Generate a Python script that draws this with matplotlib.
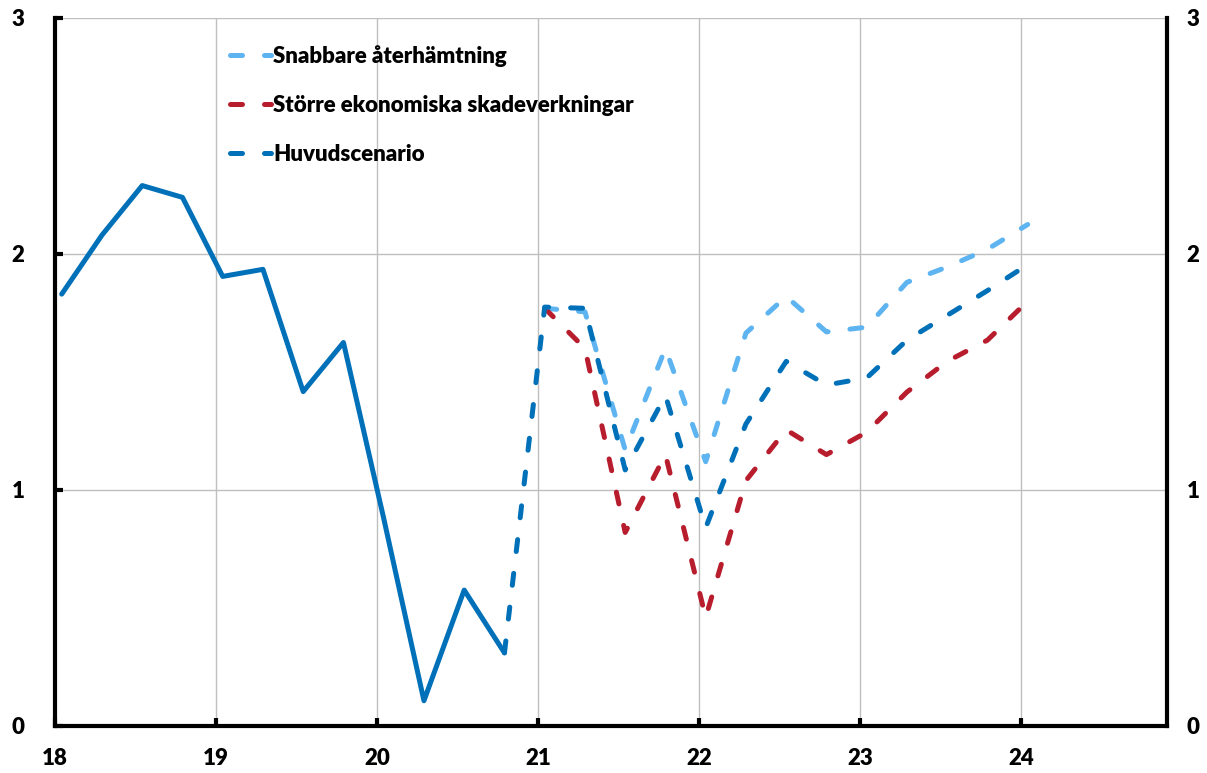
import matplotlib
matplotlib.use("Agg")
import matplotlib.pyplot as plt
import numpy as np

# Quarterly outcome 2018Q1-2020Q4
hist_quarters = np.arange(12)
hist_values = [1.83, 2.08, 2.29, 2.24, 1.905, 1.935, 1.417, 1.625, 0.88, 0.107, 0.576, 0.31]

# Main scenario 2020Q4-2024Q1
main_quarters = np.arange(11, 25)
main_values = [0.31, 1.775, 1.77, 1.085, 1.40, 0.84, 1.28, 1.545, 1.445, 1.475, 1.635, 1.74, 1.845, 1.955]

# Alternative scenarios 2021Q1-2024Q1
alt_quarters = np.arange(12, 25)
fast_values = [1.77, 1.755, 1.17, 1.60, 1.12, 1.665, 1.82, 1.67, 1.69, 1.88, 1.945, 2.02, 2.125]
severe_values = [1.77, 1.60, 0.82, 1.15, 0.46, 1.04, 1.255, 1.15, 1.245, 1.415, 1.545, 1.635, 1.80]

labels = ["Snabbare återhämtning", "Större ekonomiska skadeverkningar", "Huvudscenario"]
year_ticks = [18, 19, 20, 21, 22, 23, 24]
y_ticks = [0, 1, 2, 3]

DARK = "#0070B8"
LIGHT = "#5DB4F0"
RED = "#B81D2D"
FONT_SIZE = 16
WEIGHT = "heavy"

def qx(q):
    return 18 + 0.5 / 12 + 0.25 * np.asarray(q)

plt.rcParams["font.family"] = ["Lato", "DejaVu Sans"]

fig = plt.figure(figsize=(12.07, 7.73), dpi=100)
ax = fig.add_axes([55 / 1207, 47 / 773, (1167 - 55) / 1207, (726 - 18) / 773])

lw = 3.6
dash = (0, (2.4, 4.4))
kw = dict(lw=lw, dash_capstyle="round", solid_capstyle="round", solid_joinstyle="round")

ax.plot(qx(alt_quarters), fast_values, color=LIGHT, linestyle=dash, label=labels[0], **kw)
ax.plot(qx(alt_quarters), severe_values, color=RED, linestyle=dash, label=labels[1], **kw)
ax.plot(qx(main_quarters), main_values, color=DARK, linestyle=dash, label=labels[2], **kw)
ax.plot(qx(hist_quarters), hist_values, color=DARK, linestyle="-", **kw)

ax.set_xlim(18, 24.907)
ax.set_ylim(0, 3)
ax.set_xticks(year_ticks)
ax.set_xticklabels([str(t) for t in year_ticks])
ax.set_yticks(y_ticks)
ax.set_yticklabels([str(t) for t in y_ticks])

ax.grid(True, color="#BFBFBF", lw=1.0)
ax.set_axisbelow(True)

for side in ["left", "right", "bottom"]:
    ax.spines[side].set_linewidth(3.0)
    ax.spines[side].set_color("black")
ax.spines["top"].set_visible(False)

ax.tick_params(axis="both", direction="in", length=6, width=3, labelsize=FONT_SIZE, colors="black")
ax.tick_params(axis="y", left=True, right=True, labelleft=True, labelright=False, pad=22)
ax.tick_params(axis="x", pad=16)

# right-hand value labels on a twin axis so they get their own padding
ax2 = ax.twinx()
ax2.set_ylim(ax.get_ylim())
ax2.set_yticks(y_ticks)
ax2.set_yticklabels([str(t) for t in y_ticks])
ax2.tick_params(axis="y", length=0, pad=14, labelsize=FONT_SIZE, colors="black")
for s in ax2.spines.values():
    s.set_visible(False)

for t in ax.get_yticklabels() + ax.get_xticklabels() + ax2.get_yticklabels():
    t.set_fontweight(WEIGHT)

leg = ax.legend(loc="upper left", bbox_to_anchor=(0.149, 0.974), frameon=False,
                fontsize=FONT_SIZE, handlelength=1.85, handletextpad=0.12,
                labelspacing=1.25, borderaxespad=0)
for t in leg.get_texts():
    t.set_fontweight(WEIGHT)

fig.savefig("out.png", dpi=100)
